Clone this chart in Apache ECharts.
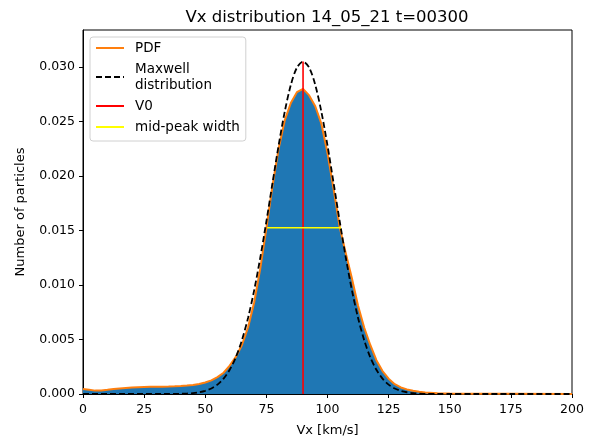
<!DOCTYPE html>
<html>
<head>
<meta charset="utf-8">
<script src="https://cdn.jsdelivr.net/npm/echarts@6/dist/echarts.min.js"></script>
<style>
  html, body { margin: 0; padding: 0; background: #fff; }
  #main { width: 593px; height: 442px; }
</style>
</head>
<body>
<div id="main"></div>
<script>
// velocity grid (km/s)
const vx = [0, 2.5, 5, 7.5, 10, 12.5, 15, 17.5, 20, 22.5, 25, 27.5, 30, 32.5, 35, 37.5, 40, 42.5, 45, 47.5,
  50, 52.5, 55, 57.5, 60, 62.5, 65, 67.5, 70, 72.5, 75, 77.5, 80, 82.5, 85, 87.5, 90, 92.5, 95, 97.5,
  100, 102.5, 105, 107.5, 110, 112.5, 115, 117.5, 120, 122.5, 125, 127.5, 130, 132.5, 135, 137.5, 140,
  145, 150, 160, 175, 200];

const pdf = [0.00045, 0.00038, 0.00031, 0.00032, 0.00038, 0.00045, 0.00050, 0.00055, 0.00059, 0.00062,
  0.00064, 0.00066, 0.00067, 0.00067, 0.00068, 0.00070, 0.00073, 0.00077, 0.00083, 0.00092,
  0.00106, 0.00125, 0.00155, 0.00195, 0.0026, 0.0034, 0.0045, 0.0061, 0.0084, 0.0115,
  0.0152, 0.0191, 0.0225, 0.0251, 0.0267, 0.0277, 0.0280, 0.0274, 0.0264, 0.0248,
  0.0221, 0.0188, 0.0153, 0.0129, 0.0106, 0.0081, 0.0061, 0.0045, 0.0031, 0.0021,
  0.0014, 0.00090, 0.00060, 0.00042, 0.00029, 0.00020, 0.00014,
  0.00008, 0.00005, 0.00003, 0.00002, 0.00001];

// maxwell curve
const maxwell = [0, 0, 0, 0, 0, 0, 0, 0, 0, 0,
  0, 0, 0, 0, 0, 0.00001, 0.00002, 0.00004, 0.00008, 0.00016,
  0.00029, 0.00051, 0.00086, 0.00141, 0.00222, 0.00337, 0.00494, 0.00698, 0.00951, 0.0125,
  0.01583, 0.01935, 0.0228, 0.02589, 0.02836, 0.02995, 0.0305, 0.02995, 0.02836, 0.02589,
  0.0228, 0.01935, 0.01583, 0.0125, 0.00951, 0.00698, 0.00494, 0.00337, 0.00222, 0.00141,
  0.00086, 0.00051, 0.00029, 0.00016, 0.00008, 0.00004, 0.00002,
  0, 0, 0, 0, 0];

const v0 = 90;
const v0Top = 0.0305;
const halfLevel = 0.01525;
const halfWidthX = [75.3, 105.5];

const xTicks = [0, 25, 50, 75, 100, 125, 150, 175, 200];
const yMax = 0.0334;

const font = 'DejaVu Sans';

let chart = echarts.init(document.getElementById('main'), null, { renderer: 'canvas' });

let option = {
  animation: false,
  textStyle: { fontFamily: font },
  title: {
    text: 'Vx distribution 14_05_21 t=00300',
    left: 322,
    textAlign: 'center',
    top: 4,
    textStyle: { fontFamily: font, fontSize: 16.5, fontWeight: 'normal', color: '#000' },
  },
  legend: {
    orient: 'vertical',
    left: 90,
    top: 37,
    itemWidth: 28,
    itemHeight: 10,
    itemGap: 5,
    padding: [3, 6, 6, 5],
    borderColor: '#d0d0d0',
    borderWidth: 1,
    borderRadius: 3,
    backgroundColor: 'rgba(255,255,255,0.8)',
    itemStyle: { opacity: 0 },
    textStyle: { fontFamily: font, fontSize: 13.5, color: '#000', lineHeight: 16, padding: [0, 0, 0, 6] },
    data: ['PDF', 'Maxwell\ndistribution', 'V0', 'mid-peak width'],
  },
  grid: {
    left: 83, right: 21, top: 30, bottom: 48,
    show: true, borderColor: '#000', borderWidth: 1,
  },
  xAxis: {
    type: 'value',
    min: 0, max: 200, interval: 25,
    name: 'Vx [km/s]',
    nameLocation: 'middle',
    nameGap: 30,
    nameTextStyle: { fontFamily: font, fontSize: 13, color: '#000' },
    axisLine: { lineStyle: { color: '#000', width: 1 } },
    axisTick: { length: 4, lineStyle: { color: '#000' } },
    axisLabel: { fontFamily: font, fontSize: 12.5, color: '#000', margin: 9,
      formatter: v => xTicks.includes(v) ? String(v) : '' },
    splitLine: { show: false },
  },
  yAxis: {
    type: 'value',
    min: 0, max: yMax, interval: 0.005,
    name: 'Number of particles',
    nameLocation: 'middle',
    nameGap: 56,
    nameTextStyle: { fontFamily: font, fontSize: 13, color: '#000' },
    axisLine: { show: true, lineStyle: { color: '#000', width: 1 } },
    axisTick: { show: true, length: 4, lineStyle: { color: '#000' } },
    axisLabel: { fontFamily: font, fontSize: 12.5, color: '#000', margin: 8, showMaxLabel: false,
      formatter: v => v.toFixed(3) },
    splitLine: { show: false },
  },
  series: [
    {
      name: 'hist',
      type: 'line',
      data: vx.map((v, i) => [v, pdf[i]]),
      symbol: 'none',
      lineStyle: { width: 0 },
      areaStyle: { color: '#1f77b4', opacity: 1 },
      z: 1,
    },
    {
      name: 'PDF',
      type: 'line',
      data: vx.map((v, i) => [v, pdf[i]]),
      symbol: 'none',
      lineStyle: { color: '#ff7f0e', width: 2 },
      itemStyle: { color: '#ff7f0e' },
      z: 2,
    },
    {
      name: 'Maxwell\ndistribution',
      type: 'line',
      data: vx.map((v, i) => [v, maxwell[i]]),
      symbol: 'none',
      smooth: 0.3,
      lineStyle: { color: '#000', width: 1.8, type: [6, 3] },
      itemStyle: { color: '#000' },
      z: 3,
    },
    {
      name: 'V0',
      type: 'line',
      data: [[v0, 0], [v0, v0Top]],
      symbol: 'none',
      lineStyle: { color: '#ff0000', width: 1.6 },
      itemStyle: { color: '#ff0000' },
      z: 4,
    },
    {
      name: 'mid-peak width',
      type: 'line',
      data: [[halfWidthX[0], halfLevel], [halfWidthX[1], halfLevel]],
      symbol: 'none',
      lineStyle: { color: '#ffff00', width: 1.6 },
      itemStyle: { color: '#ffff00' },
      z: 5,
    },
  ],
};

chart.setOption(option);
window.addEventListener('resize', chart.resize);
</script>
</body>
</html>
